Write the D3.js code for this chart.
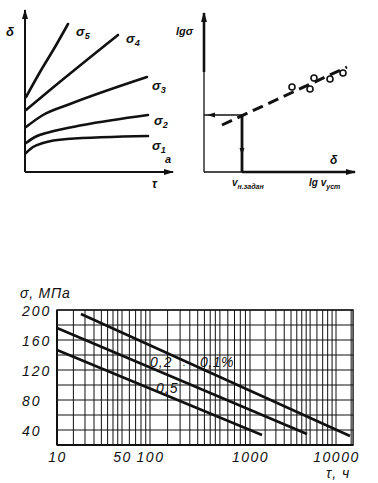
<!DOCTYPE html>
<html>
<head>
<meta charset="utf-8">
<script src="https://cdn.jsdelivr.net/npm/d3@7"></script>
<style>
    body { margin: 0; background: #fff; }
    svg { display: block; }
    text { font-family: "Liberation Sans", Arial, sans-serif; font-style: italic; fill: #111; }
</style>
</head>
<body>
<svg id="chart" width="378" height="483"></svg>
<script>
// ---------- data ----------

// top left: strain vs time for five stress levels (schematic units)
const creepNames = ["1", "2", "3", "4", "5"];
const creep1 = [[1, 19], [8, 25], [18, 29], [42, 33], [123, 36]];
const creep2 = [[1, 29], [10, 35], [25, 40], [58, 47], [123, 57]];
const creep3 = [[1, 45], [18, 57], [45, 68], [122, 95]];
const creep4 = [[1, 62], [25, 82], [93, 137]];
const creep5 = [[1, 75], [15, 100], [30, 125], [43, 148]];
const creepCurves = [creep1, creep2, creep3, creep4, creep5];

// top right: lg sigma vs lg v (schematic units)
const fitLine = [[18, 47], [143, 105]];
const testPoints = [[88, 85], [106, 83], [110, 94], [126, 93], [139, 99]];
const readPoint = [38, 57];

// bottom: creep limit, stress vs time (MPa, hours)
const xTickValues = [10, 50, 100, 1000, 10000];
const yTickValues = [40, 80, 120, 160, 200];
const lineNames = ["0,1%", "0,2", "0,5"];
const strain01 = [[18.1, 194.7], [14550, 32]];
const strain02 = [[10, 176], [4600, 34.7]];
const strain05 = [[10, 146.7], [1380, 33.3]];
const gridMultipliers = [1, 1.5, 2, 2.5, 3, 3.5, 4, 4.5, 5, 6, 7, 8, 9];
const gridDecades = [10, 100, 1000, 10000];

// ---------- drawing ----------

let svg = d3.select("#chart");
let ink = "#111";

// arrow head marker
svg.append("defs").append("marker")
    .attr("id", "arrow")
    .attr("viewBox", "0 0 10 6")
    .attr("refX", 9).attr("refY", 3)
    .attr("markerWidth", 10).attr("markerHeight", 6)
    .attr("markerUnits", "userSpaceOnUse")
    .attr("orient", "auto")
    .append("path")
    .attr("d", "M0,0 L10,3 L0,6 Z")
    .attr("fill", ink);

// label with subscript
function subLabel(g, x, y, main, sub, size) {
    let t = g.append("text")
        .attr("x", x).attr("y", y)
        .attr("font-size", size)
        .attr("font-weight", "bold");
    t.append("tspan").text(main);
    if (sub) {
        t.append("tspan").attr("dy", 3).attr("font-size", size * 0.7).text(sub);
    }
    return t;
}

// ----- top left chart -----
let xL = d3.scaleLinear().domain([0, 150]).range([25, 175]);
let yL = d3.scaleLinear().domain([0, 160]).range([172, 12]);
let tl = svg.append("g");

tl.append("line")
    .attr("x1", xL(0)).attr("y1", yL(0))
    .attr("x2", xL(0)).attr("y2", yL(162))
    .attr("stroke", ink).attr("stroke-width", 2)
    .attr("marker-end", "url(#arrow)");
tl.append("line")
    .attr("x1", xL(0)).attr("y1", yL(0))
    .attr("x2", xL(148)).attr("y2", yL(0))
    .attr("stroke", ink).attr("stroke-width", 2)
    .attr("marker-end", "url(#arrow)");

let creepLine = d3.line()
    .x(function (d) { return xL(d[0]); })
    .y(function (d) { return yL(d[1]); })
    .curve(d3.curveMonotoneX);

tl.selectAll("path.creep").data(creepCurves)
    .enter().append("path")
    .attr("class", "creep")
    .attr("d", creepLine)
    .attr("fill", "none")
    .attr("stroke", ink)
    .attr("stroke-width", 2.6)
    .attr("stroke-linecap", "round");

// offsets of sigma labels from curve ends
let labelShift = [[4, 14], [6, 10], [5, 13], [8, 8], [8, 12]];
creepCurves.forEach(function (c, i) {
    let end = c[c.length - 1];
    subLabel(tl, xL(end[0]) + labelShift[i][0], yL(end[1]) + labelShift[i][1], "σ", creepNames[i], 13);
});

subLabel(tl, 6, 36, "δ", null, 13);
subLabel(tl, 152, 188, "τ", null, 12);
subLabel(tl, 165, 163, "a", null, 11);

// ----- top right chart -----
let xR = d3.scaleLinear().domain([0, 150]).range([204, 354]);
let yR = d3.scaleLinear().domain([0, 160]).range([172, 12]);
let tr = svg.append("g");

// vertical axis: thin lower part, bold upper part
tr.append("line")
    .attr("x1", xR(0)).attr("y1", yR(0))
    .attr("x2", xR(0)).attr("y2", yR(100))
    .attr("stroke", ink).attr("stroke-width", 1.3);
tr.append("line")
    .attr("x1", xR(0)).attr("y1", yR(100))
    .attr("x2", xR(0)).attr("y2", yR(159))
    .attr("stroke", ink).attr("stroke-width", 2.6)
    .attr("marker-end", "url(#arrow)");

// horizontal axis: thin to the read point, bold after it
tr.append("line")
    .attr("x1", xR(0)).attr("y1", yR(0))
    .attr("x2", xR(readPoint[0])).attr("y2", yR(0))
    .attr("stroke", ink).attr("stroke-width", 1.3);
tr.append("line")
    .attr("x1", xR(readPoint[0])).attr("y1", yR(0))
    .attr("x2", xR(151)).attr("y2", yR(0))
    .attr("stroke", ink).attr("stroke-width", 2.6)
    .attr("marker-end", "url(#arrow)");

// read-off lines from the fitted line
tr.append("line")
    .attr("x1", xR(readPoint[0])).attr("y1", yR(readPoint[1]))
    .attr("x2", xR(0)).attr("y2", yR(readPoint[1]))
    .attr("stroke", ink).attr("stroke-width", 1.6);
tr.append("path")
    .attr("d", "M" + (xR(3)) + "," + yR(readPoint[1]) + " l8,-2.5 l0,5 Z")
    .attr("fill", ink);
tr.append("line")
    .attr("x1", xR(readPoint[0])).attr("y1", yR(readPoint[1]))
    .attr("x2", xR(readPoint[0])).attr("y2", yR(0))
    .attr("stroke", ink).attr("stroke-width", 2.8);
tr.append("path")
    .attr("d", "M" + (xR(readPoint[0]) - 2.5) + "," + (yR(24)) + " l2.5,7 l2.5,-7 Z")
    .attr("fill", ink);

let fit = d3.line()
    .x(function (d) { return xR(d[0]); })
    .y(function (d) { return yR(d[1]); });

tr.append("path")
    .attr("d", fit(fitLine))
    .attr("fill", "none")
    .attr("stroke", ink)
    .attr("stroke-width", 3)
    .attr("stroke-dasharray", "11,6");

tr.selectAll("circle").data(testPoints)
    .enter().append("circle")
    .attr("cx", function (d) { return xR(d[0]); })
    .attr("cy", function (d) { return yR(d[1]); })
    .attr("r", 3)
    .attr("fill", "#fff")
    .attr("stroke", ink)
    .attr("stroke-width", 1.6);

subLabel(tr, 176, 35, "lgσ", null, 11);
subLabel(tr, 330, 164, "δ", null, 12);
subLabel(tr, 232, 186, "v", "н.задан", 10);
subLabel(tr, 309, 186, "lg v", "уст", 10);

// ----- bottom chart -----
let xMax = 15800;
let xB = d3.scaleLog()
    .domain([10, 100, 1000, 10000])
    .range([57, 150, 250, 336]);
let yB = d3.scaleLinear().domain([20, 200]).range([445, 310]);
let bt = svg.append("g");

let gridX = [];
gridDecades.forEach(function (d) {
    gridMultipliers.forEach(function (m) {
        if (d * m < xMax) gridX.push(d * m);
    });
});

bt.selectAll("line.vgrid").data(gridX)
    .enter().append("line")
    .attr("class", "vgrid")
    .attr("x1", function (d) { return xB(d); })
    .attr("x2", function (d) { return xB(d); })
    .attr("y1", yB(20)).attr("y2", yB(200))
    .attr("stroke", ink).attr("stroke-width", 1);

bt.selectAll("line.hgrid").data(d3.range(20, 201, 20))
    .enter().append("line")
    .attr("class", "hgrid")
    .attr("x1", xB(10)).attr("x2", xB(xMax))
    .attr("y1", function (d) { return yB(d); })
    .attr("y2", function (d) { return yB(d); })
    .attr("stroke", ink).attr("stroke-width", 1);

// frame
bt.append("rect")
    .attr("x", xB(10)).attr("y", yB(200))
    .attr("width", xB(xMax) - xB(10))
    .attr("height", yB(20) - yB(200))
    .attr("fill", "none")
    .attr("stroke", ink).attr("stroke-width", 1.4);
bt.append("line")
    .attr("x1", xB(10)).attr("x2", xB(10))
    .attr("y1", yB(200)).attr("y2", yB(20))
    .attr("stroke", ink).attr("stroke-width", 2);
bt.append("line")
    .attr("x1", xB(10)).attr("x2", xB(xMax))
    .attr("y1", yB(20)).attr("y2", yB(20))
    .attr("stroke", ink).attr("stroke-width", 2);

// axes labels
let xAxis = d3.axisBottom(xB)
    .tickValues(xTickValues)
    .tickSize(0)
    .tickFormat(d3.format("d"));
let gx = bt.append("g")
    .attr("transform", "translate(0," + yB(20) + ")")
    .call(xAxis);
gx.select(".domain").remove();
gx.selectAll("text")
    .attr("y", 17).attr("dy", 0)
    .attr("font-size", 14)
    .attr("letter-spacing", 1.5)
    .attr("font-family", "Liberation Sans, Arial, sans-serif")
    .attr("fill", ink);

let yAxis = d3.axisLeft(yB)
    .tickValues(yTickValues)
    .tickSize(0);
let gy = bt.append("g")
    .attr("transform", "translate(" + xB(10) + ",0)")
    .call(yAxis);
gy.select(".domain").remove();
gy.selectAll("text")
    .attr("x", -35)
    .attr("dy", "0.36em")
    .attr("text-anchor", "start")
    .attr("font-size", 14)
    .attr("letter-spacing", 2)
    .attr("font-family", "Liberation Sans, Arial, sans-serif")
    .attr("fill", ink);

// strain lines
let strainLine = d3.line()
    .x(function (d) { return xB(d[0]); })
    .y(function (d) { return yB(d[1]); });

bt.selectAll("path.strain").data([strain01, strain02, strain05])
    .enter().append("path")
    .attr("class", "strain")
    .attr("d", strainLine)
    .attr("fill", "none")
    .attr("stroke", ink)
    .attr("stroke-width", 2.6);

// line labels
bt.append("text").attr("x", 200).attr("y", 367).attr("font-size", 14).attr("letter-spacing", 0.5).text(lineNames[0]);
bt.append("text").attr("x", 150).attr("y", 367).attr("font-size", 14).attr("letter-spacing", 1).text(lineNames[1]);
bt.append("text").attr("x", 183).attr("y", 366).attr("font-size", 10).text(".");
bt.append("text").attr("x", 156).attr("y", 393).attr("font-size", 14).attr("letter-spacing", 1).text(lineNames[2]);

bt.append("text").attr("x", 20).attr("y", 298).attr("font-size", 14).attr("letter-spacing", 0.8).text("σ, МПа");
bt.append("text").attr("x", 326).attr("y", 478).attr("font-size", 14).attr("letter-spacing", 1).text("τ, ч");
</script>
</body>
</html>
